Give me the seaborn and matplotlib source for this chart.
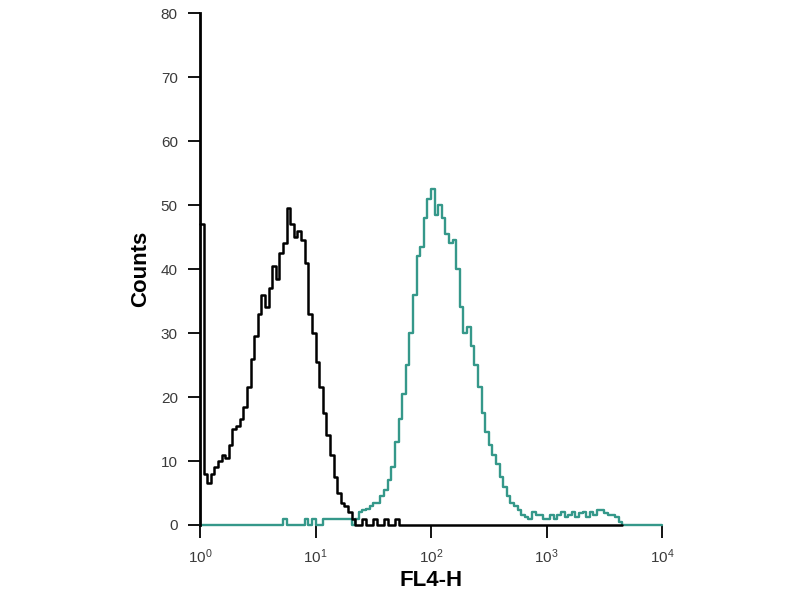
import numpy as np
import matplotlib
matplotlib.use("Agg")
import matplotlib.pyplot as plt
import seaborn as sns

# channel grid: 32 channels per decade over 10^0 .. 10^4
n_channels = 128
decades = 4

# isotype control (black), counts per channel
control_counts = [
    47, 8, 6.5, 8, 9, 10, 11, 10.5, 12.5, 15, 15.5, 16.5, 18.5, 21.5, 26, 29.5,
    33, 36, 34, 37, 40.5, 38.5, 42.5, 44, 49.5, 47, 45, 46, 44.5, 41, 33, 30,
    25.5, 21.5, 17.5, 14, 11, 7.5, 5, 3.5, 3, 2, 1, 0, 0, 1, 0, 0,
    1, 0, 0, 1, 0, 0, 1, 0, 0, 0, 0, 0, 0, 0, 0, 0,
    0, 0, 0, 0, 0, 0, 0, 0, 0, 0, 0, 0, 0, 0, 0, 0,
    0, 0, 0, 0, 0, 0, 0, 0, 0, 0, 0, 0, 0, 0, 0, 0,
    0, 0, 0, 0, 0, 0, 0, 0, 0, 0, 0, 0, 0, 0, 0, 0,
    0, 0, 0, 0, 0,
]

# stained sample (teal), counts per channel
stained_counts = [
    0, 0, 0, 0, 0, 0, 0, 0, 0, 0, 0, 0, 0, 0, 0, 0,
    0, 0, 0, 0, 0, 0, 0, 1, 0, 0, 0, 0, 0, 1, 0, 1,
    0, 0, 1, 1, 1, 1, 1, 1, 1, 1, 0, 1, 2, 2.3, 2.5, 3,
    3.5, 3.5, 4.5, 5.5, 7, 9, 13, 16.5, 20.5, 25, 30, 36, 42, 43.5, 48, 51,
    52.5, 48.5, 50, 48, 45.5, 44, 44.5, 40, 34, 30, 31, 28, 25, 21.5, 17.5, 14.5,
    12.5, 11, 9.5, 7.5, 6, 4.5, 3.5, 3, 2.3, 1.5, 1.3, 1, 2, 1.5, 1.5, 1,
    1, 1.5, 1, 1.5, 2, 1.3, 1.5, 2, 1.3, 1.8, 2, 1.3, 2, 1.5, 2.3, 2.3,
    1.8, 1.5, 1.5, 1.2, 0.5, 0, 0, 0, 0, 0, 0, 0, 0, 0, 0, 0,
]

y_ticks = [0, 10, 20, 30, 40, 50, 60, 70, 80]
x_ticks = [1, 10, 100, 1000, 10000]

edges = 10 ** (np.arange(n_channels + 1) / (n_channels / decades))


def step_xy(counts):
    xs = edges[:len(counts) + 1]
    ys = list(counts) + [counts[-1]]
    return xs, ys


sns.set_style("ticks")
plt.rcParams['font.family'] = ['Liberation Sans', 'DejaVu Sans']

fig = plt.figure(figsize=(8, 6), dpi=100)
ax = fig.add_axes([0.25, 0.125, 0.5775, 0.8533])

sx, sy = step_xy(stained_counts)
sns.lineplot(x=sx, y=sy, ax=ax, color='#35988a', linewidth=1.7,
             drawstyle='steps-post', estimator=None, sort=False, clip_on=False)
cx, cy = step_xy(control_counts)
sns.lineplot(x=cx, y=cy, ax=ax, color='black', linewidth=1.8,
             drawstyle='steps-post', estimator=None, sort=False, clip_on=False)

ax.set_xscale('log')
ax.set_xlim(1, 10000)
ax.set_ylim(0, 80)
ax.set_xticks(x_ticks)
ax.set_yticks(y_ticks)
ax.xaxis.set_minor_locator(matplotlib.ticker.NullLocator())

sns.despine(ax=ax, top=True, right=True)
ax.spines['bottom'].set_visible(False)
ax.spines['left'].set_linewidth(2)
ax.spines['left'].set_color('black')

ax.tick_params(axis='both', direction='out', length=9, width=1.3,
               color='black', labelsize=11, labelcolor='#3a3a3a', pad=7)

ax.set_ylabel('Counts', fontsize=16, fontweight='bold', color='black')
ax.set_xlabel('FL4-H', fontsize=16, fontweight='bold', color='black')
ax.yaxis.set_label_coords(-0.106, 0.5)
ax.xaxis.set_label_coords(0.5, -0.088)

fig.savefig('out.png', dpi=100)
